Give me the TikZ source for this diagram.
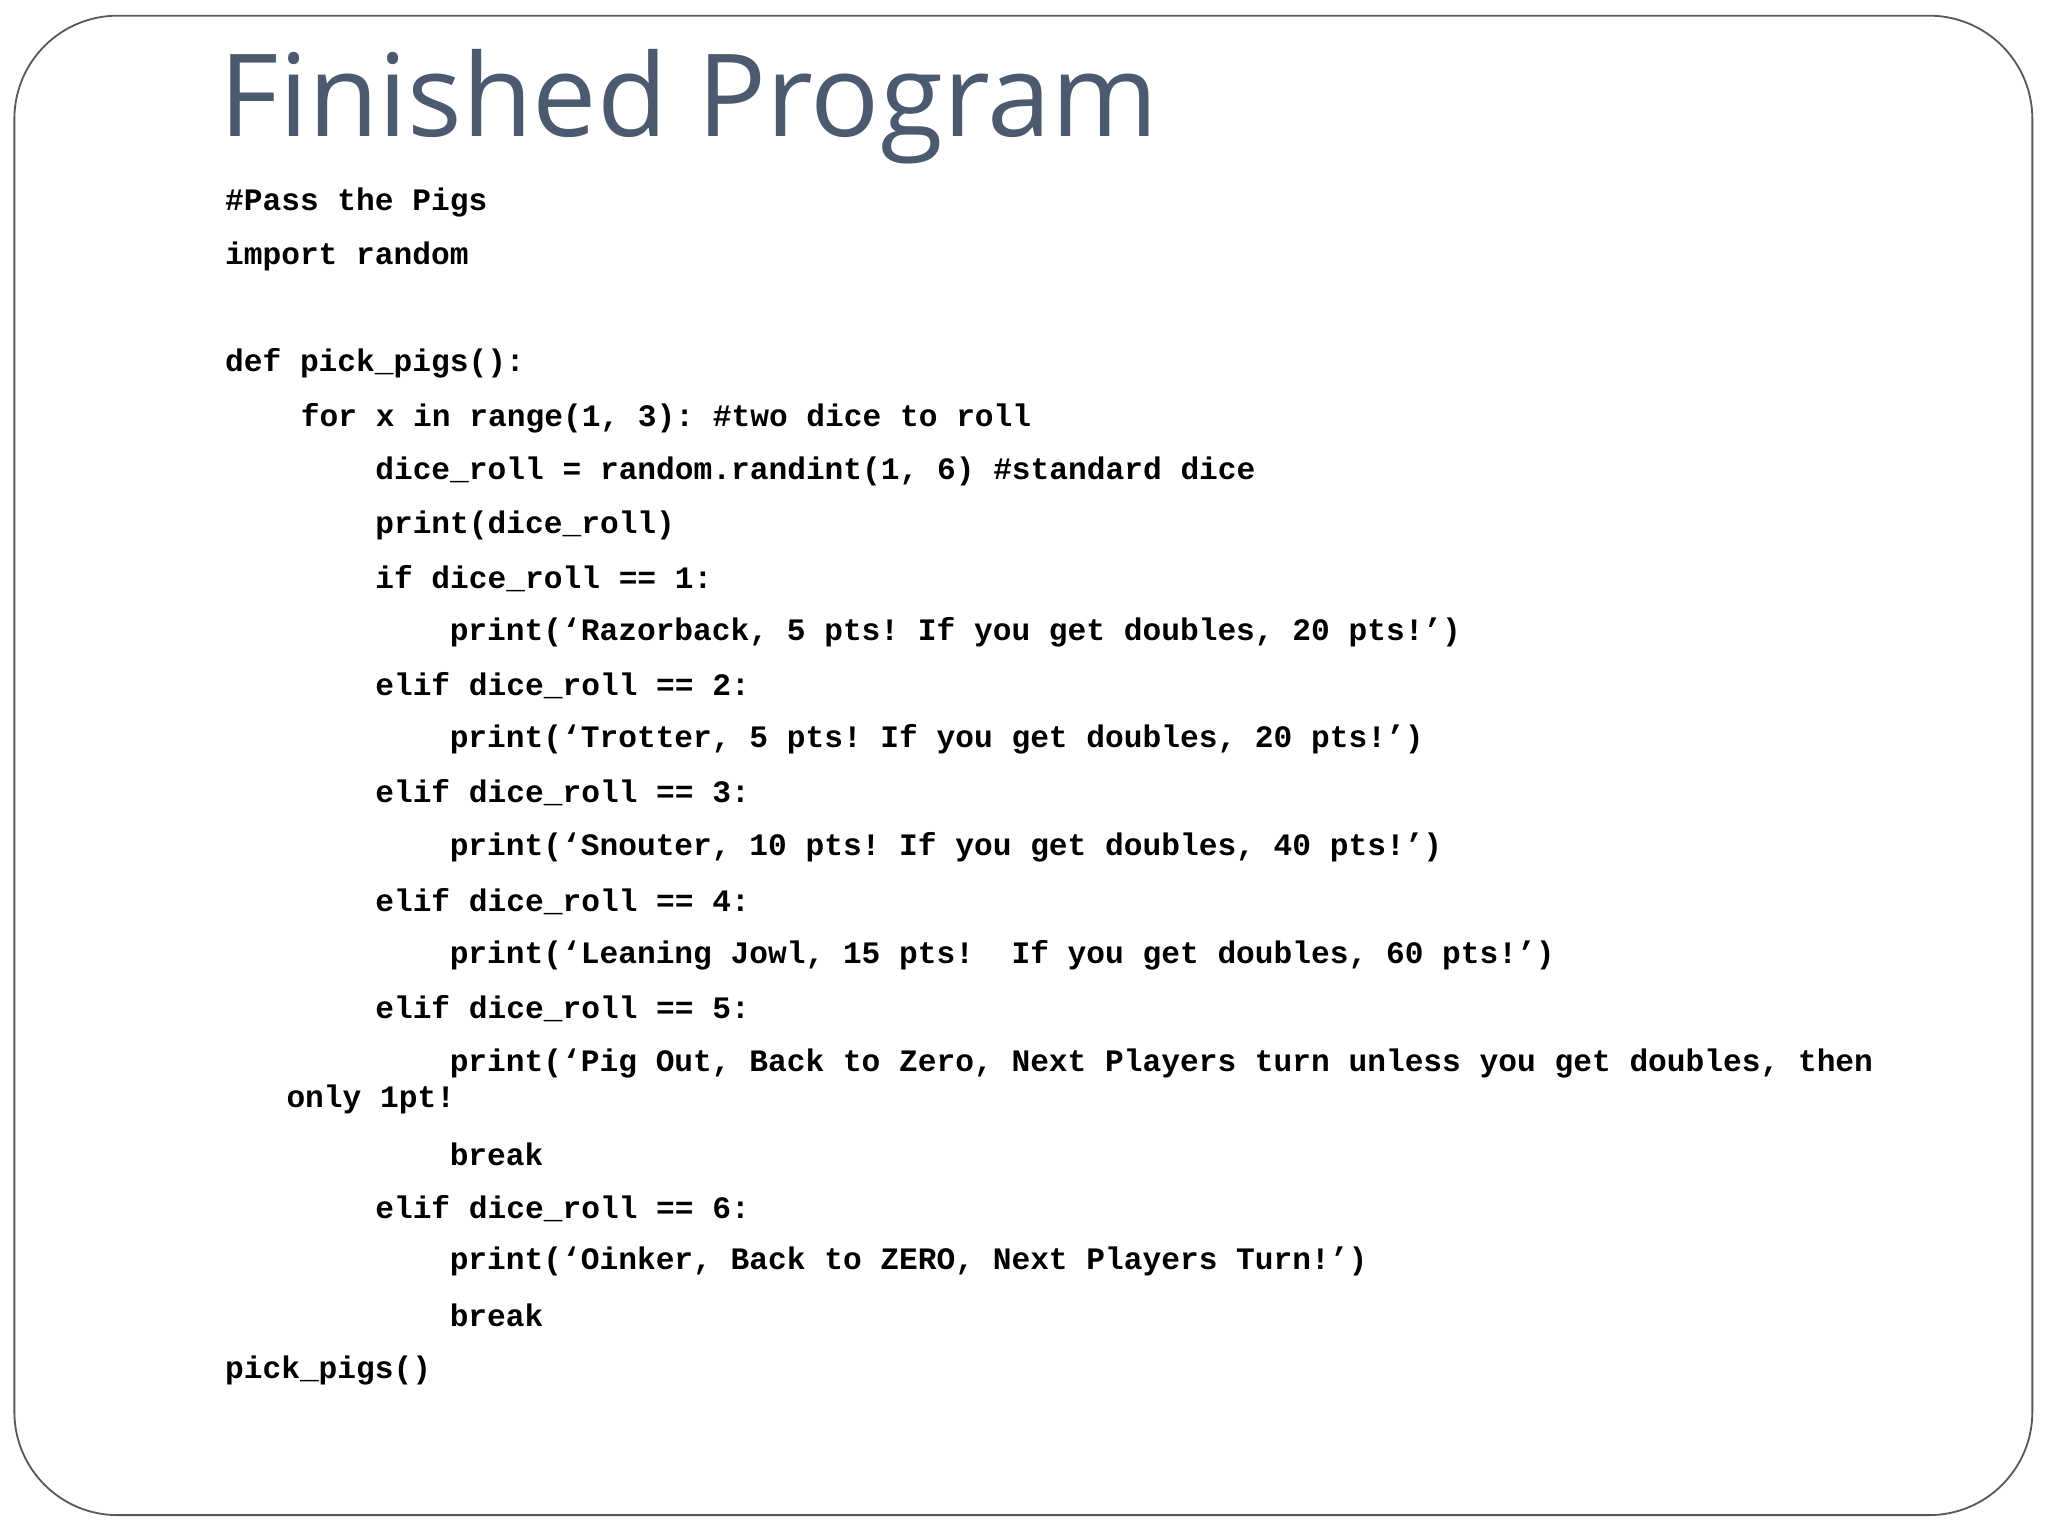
\documentclass[tikz,border=0pt]{standalone}
\usepackage{fontspec}
\setmainfont{Open Sans}
\setmonofont{Liberation Mono}
\definecolor{titlec}{HTML}{4C5A70}
\begin{document}
\begin{tikzpicture}[x=0.02cm,y=-0.02cm,
  code/.style={anchor=west,inner sep=0pt,font=\ttfamily\bfseries\fontsize{13.6}{16}\selectfont},
  title/.style={anchor=west,inner sep=0pt,text=titlec,font=\fontsize{50}{60}\selectfont}]
\useasboundingbox (0,0) rectangle (1568,1176);
\draw[gray!70!black,line width=0.8pt,rounded corners=45] (11,12) rectangle (1556,1160);
\node[title] (t) at (168,82) {Finished Program};
\node[code] (l1) at (172,155) {\#Pass the Pigs};
\node[code] (l2) at (172,196) {import random};
\node[code] (l3) at (172,278) {def pick\_pigs():};
\node[code] (l4) at (230,320) {for x in range(1, 3): \#two dice to roll};
\node[code] (l5) at (287,361) {dice\_roll = random.randint(1, 6) \#standard dice};
\node[code] (l6) at (287,402) {print(dice\_roll)};
\node[code] (l7) at (287,443) {if dice\_roll == 1:};
\node[code] (l8) at (344,484) {print(‘Razorback, 5 pts! If you get doubles, 20 pts!’)};
\node[code] (l9) at (287,525) {elif dice\_roll == 2:};
\node[code] (l10) at (344,566) {print(‘Trotter, 5 pts! If you get doubles, 20 pts!’)};
\node[code] (l11) at (287,607) {elif dice\_roll == 3:};
\node[code] (l12) at (344,649) {print(‘Snouter, 10 pts! If you get doubles, 40 pts!’)};
\node[code] (l13) at (287,690) {elif dice\_roll == 4:};
\node[code] (l14) at (344,731) {print(‘Leaning Jowl, 15 pts!\ \ If you get doubles, 60 pts!’)};
\node[code] (l15) at (287,772) {elif dice\_roll == 5:};
\node[code] (l16) at (344,814) {print(‘Pig Out, Back to Zero, Next Players turn unless you get doubles, then};
\node[code] (l17) at (219,842) {only 1pt!};
\node[code] (l18) at (344,884) {break};
\node[code] (l19) at (287,925) {elif dice\_roll == 6:};
\node[code] (l20) at (344,966) {print(‘Oinker, Back to ZERO, Next Players Turn!’)};
\node[code] (l21) at (344,1007) {break};
\node[code] (l22) at (172,1049) {pick\_pigs()};
\end{tikzpicture}
\end{document}
